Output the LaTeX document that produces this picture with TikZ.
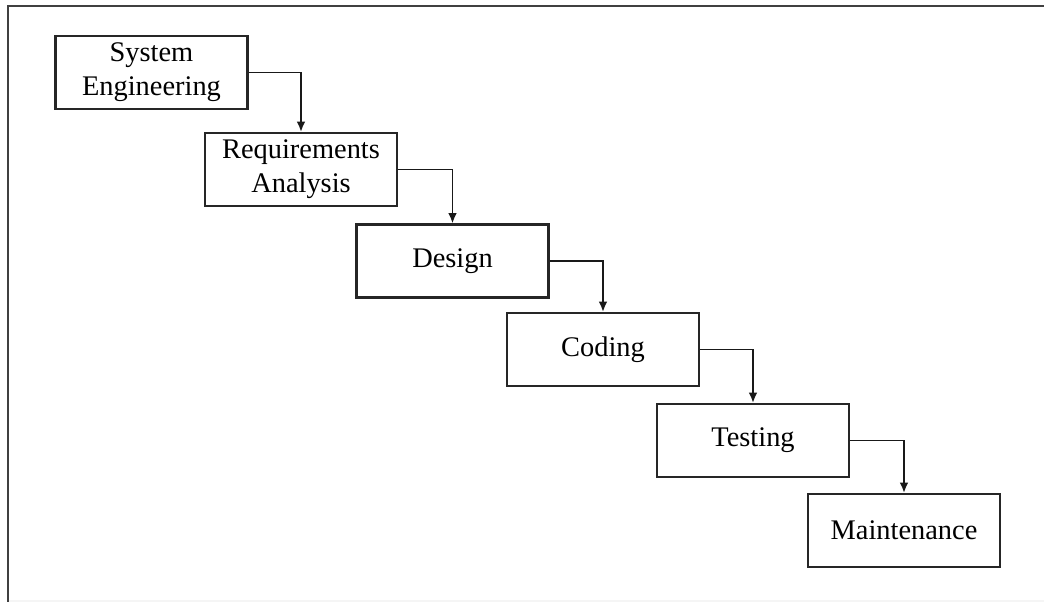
\documentclass[tikz,border=0pt]{standalone}
\usepackage{fontspec}
\setmainfont{Liberation Serif}
\usetikzlibrary{arrows.meta,positioning}
\tikzset{
 phase/.style
  = {rectangle, draw=black!85, line width=1.6pt, minimum width=4.8cm,
     minimum height=1.82cm, align=center, inner sep=0pt,
     font=\fontsize{20.2}{24.4}\selectfont},
 flow/.style
  = {draw=black!90, line width=1.3pt, -{Latex[length=2.6mm, width=2.2mm]}},
}

\begin{document}
\begin{tikzpicture}[x=0.025cm, y=-0.025cm]

% page size and frame
\useasboundingbox (0,0) rectangle (1044,602);
\fill[black!4] (8,599.5) rectangle (1044,602);
\draw[black!75, line width=1.5pt] (1044,6) -- (8,6) -- (8,602);

% Phases
\node[phase] (sys) at (151.5,72.5) {System\\Engineering};
\node[phase] (req) at (301,169.5) {Requirements\\Analysis};
\node[phase] (des) at (452.5,261) {Design};
\node[phase] (cod) at (603,349.5) {Coding};
\node[phase] (tst) at (753,440.5) {Testing};
\node[phase] (mnt) at (904,530.5) {Maintenance};

% Flow between phases
\foreach \a/\b in {sys/req, req/des, des/cod, cod/tst, tst/mnt}
  \draw[flow] (\a.east) -| (\b.north);

\end{tikzpicture}
\end{document}
